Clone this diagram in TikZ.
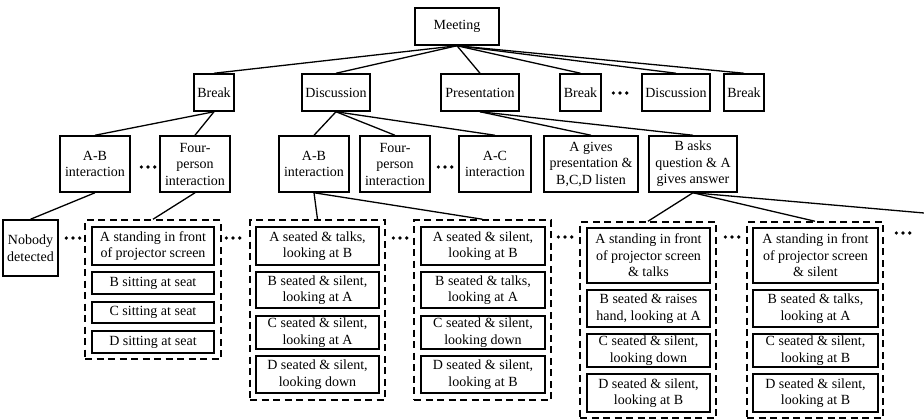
\documentclass[tikz,border=0pt]{standalone}
\usepackage{fontspec}
\setmainfont{Liberation Serif}
% a solid box given by its corners (x1,y1) and (x2,y2), with centred text
\newcommand\cell[6]{\node[box,minimum width={#4-#2},minimum height={#5-#3}] (#1) at ({(#2+#4)/2},{(#3+#5)/2}) {#6};}
% a dashed frame around a set of agent states
\newcommand\dashgroup[5]{\node[group,minimum width={#4-#2},minimum height={#5-#3}] (#1) at ({(#2+#4)/2},{(#3+#5)/2}) {};}
\begin{document}
\begin{tikzpicture}[x=1pt,y=-1pt,
  box/.style={draw,line width=1.5pt,inner sep=0pt,align=center,
    font=\fontsize{14}{16.5}\selectfont},
  group/.style={draw,dash pattern=on 7pt off 4.5pt,line width=1.5pt,inner sep=0pt},
  link/.style={line width=1.3pt},
  etc/.pic={\foreach \d in {-6.7,0,6.7} \fill (\d,0) circle (1.8);}
]
\useasboundingbox (0,0) rectangle (924,420);

% level 0
\cell{meeting}{415}{8}{499}{45}{Meeting}

% level 1: meeting phases
\cell{brk1}{194}{74}{234}{111}{Break}
\cell{disc1}{302}{74}{370}{111}{Discussion}
\cell{pres}{441}{74}{519}{111}{Presentation}
\cell{brk2}{560}{74}{601}{111}{Break}
\cell{disc2}{642}{74}{710}{111}{Discussion}
\cell{brk3}{724}{74}{764}{111}{Break}
\pic at (620,93) {etc};

% level 2: interactions
\cell{ab1}{60}{136}{130}{192}{A-B\\interaction}
\cell{four1}{160}{136}{230}{192}{Four-\\person\\interaction}
\cell{ab2}{279}{136}{349}{192}{A-B\\interaction}
\cell{four2}{360}{136}{430}{192}{Four-\\person\\interaction}
\cell{ac}{459}{136}{531}{192}{A-C\\interaction}
\cell{agives}{544}{136}{638}{192}{A gives\\presentation \&\\B,C,D listen}
\cell{basks}{649}{136}{737}{192}{B asks\\question \& A\\gives answer}
\pic at (148,167) {etc};
\pic at (445,167) {etc};

% level 3: states of the participants
\cell{nobody}{3}{220}{58}{276}{Nobody\\detected}
\pic at (73,238) {etc};

\dashgroup{grp1}{85}{220}{221}{359}
\cell{g1a}{92}{227}{214}{265}{A standing in front\\of projector screen}
\cell{g1b}{92}{272}{214}{294}{B sitting at seat}
\cell{g1c}{92}{302}{214}{323}{C sitting at seat}
\cell{g1d}{92}{331}{214}{353}{D sitting at seat}
\pic at (233,238) {etc};

\dashgroup{grp2}{250}{220}{385}{400}
\cell{g2a}{256}{227}{379}{265}{A seated \& talks,\\looking at B}
\cell{g2b}{256}{272}{379}{308}{B seated \& silent,\\looking at A}
\cell{g2c}{256}{316}{379}{349}{C seated \& silent,\\looking at A}
\cell{g2d}{256}{356}{379}{393}{D seated \& silent,\\looking down}
\pic at (400,238) {etc};

\dashgroup{grp3}{414}{220}{551}{400}
\cell{g3a}{421}{227}{545}{265}{A seated \& silent,\\looking at B}
\cell{g3b}{421}{272}{545}{308}{B seated \& talks,\\looking at A}
\cell{g3c}{421}{316}{545}{349}{C seated \& silent,\\looking down}
\cell{g3d}{421}{356}{545}{393}{D seated \& silent,\\looking at B}
\pic at (565,237) {etc};

\dashgroup{grp4}{580}{222}{716}{418}
\cell{g4a}{587}{228}{710}{283}{A standing in front\\of projector screen\\\& talks}
\cell{g4b}{587}{290}{710}{327}{B seated \& raises\\hand, looking at A}
\cell{g4c}{587}{334}{710}{367}{C seated \& silent,\\looking down}
\cell{g4d}{587}{374}{710}{412}{D seated \& silent,\\looking at B}
\pic at (732,237) {etc};

\dashgroup{grp5}{747}{222}{883}{418}
\cell{g5a}{753}{228}{878}{283}{A standing in front\\of projector screen\\\& silent}
\cell{g5b}{753}{290}{878}{327}{B seated \& talks,\\looking at A}
\cell{g5c}{753}{334}{878}{367}{C seated \& silent,\\looking at B}
\cell{g5d}{753}{374}{878}{412}{D seated \& silent,\\looking at B}
\pic at (903,233) {etc};

% branch continuing past the right edge
\coordinate (more) at (924,213);

% connectors
\foreach \t in {brk1,disc1,pres,brk2,disc2,brk3}
  \draw[link] (meeting.south) -- (\t.north);
\draw[link] (brk1.south) -- (ab1.north);
\draw[link] (brk1.south) -- (four1.north);
\draw[link] (disc1.south) -- (ab2.north);
\draw[link] (disc1.south) -- (four2.north);
\draw[link] (disc1.south) -- (ac.north);
\draw[link] (pres.south) -- (agives.north);
\draw[link] (pres.south) -- (basks.north);
\draw[link] (ab1.south) -- (nobody.north);
\draw[link] (four1.south) -- (grp1.north);
\draw[link] (ab2.south) -- (grp2.north);
\draw[link] (ab2.south) -- (grp3.north);
\draw[link] (basks.south) -- (grp4.north);
\draw[link] (basks.south) -- (grp5.north);
\draw[link] (basks.south) -- (more);
\end{tikzpicture}
\end{document}
